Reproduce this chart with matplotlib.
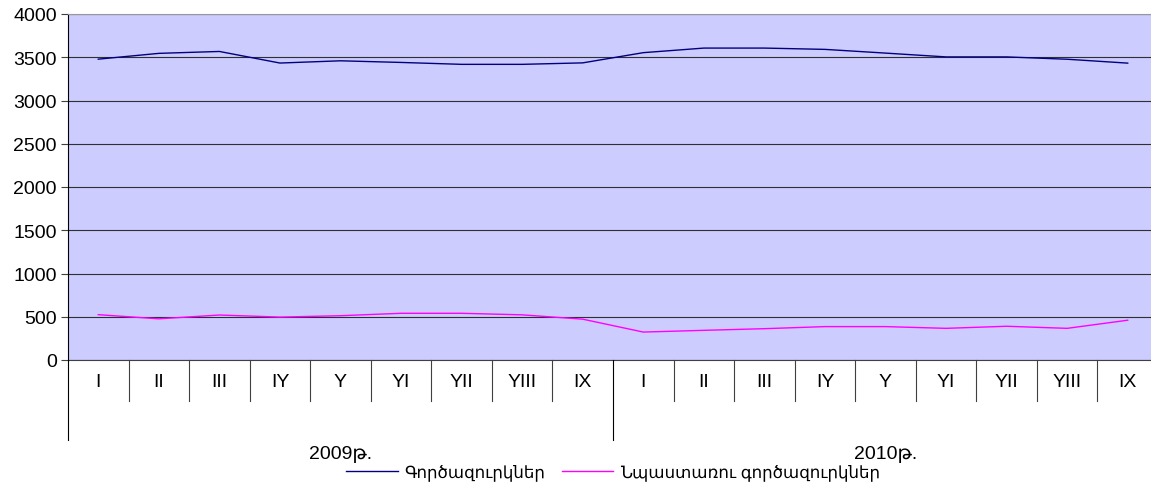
import matplotlib
matplotlib.use('Agg')
import matplotlib.pyplot as plt
import matplotlib.transforms as mtransforms
from matplotlib.lines import Line2D

plt.rcParams['font.family'] = ['Liberation Sans', 'DejaVu Sans']

months = ['I', 'II', 'III', 'IY', 'Y', 'YI', 'YII', 'YIII', 'IX']
years = ['2009թ.', '2010թ.']
unemployed = [3478, 3545, 3567, 3433, 3459, 3440, 3418, 3418, 3435,
              3553, 3606, 3606, 3591, 3548, 3504, 3504, 3477, 3432]
benefit = [524, 476, 520, 496, 512, 540, 540, 522, 472,
           323, 343, 362, 386, 386, 366, 390, 366, 460]
labels = ['Գործազուրկներ', 'Նպաստառու գործազուրկներ']

W, H = 1151, 489
fig = plt.figure(figsize=(W / 100, H / 100), dpi=100)
ax = fig.add_axes([68 / W, (H - 361) / H, (1158 - 68) / W, 346 / H])
ax.set_facecolor('#CCCCFF')

x = list(range(len(unemployed)))
ax.plot(x, unemployed, color='#000080', lw=1.0)
ax.plot(x, benefit, color='#FF00FF', lw=1.0)

ax.set_xlim(-0.5, len(x) - 0.5)
ax.set_ylim(0, 4000)
ax.set_yticks(range(0, 4001, 500))
ax.yaxis.grid(True, color='#303030', lw=0.8)
ax.set_axisbelow(True)
ax.tick_params(axis='y', labelsize=14, length=5, width=0.8, color='#404040', pad=3)

for s in ['right', 'bottom']:
    ax.spines[s].set_visible(False)
ax.spines['top'].set_color('#999999')
ax.spines['left'].set_color('black')
ax.spines['left'].set_linewidth(0.8)

# two-level category axis
ax.set_xticks([])
trans = mtransforms.blended_transform_factory(ax.transData, ax.transAxes)
tick_h = 41 / 346
year_h = 80 / 346
ax.plot([-0.5, len(x) - 0.5], [0, 0], transform=trans, color='#404040', lw=0.8, clip_on=False)
for i in range(len(x)):
    ax.text(i, -22 / 346, months[i % 9], transform=trans, ha='center', va='center', fontsize=14)
    if (i + 1) % 9 != 0:
        ax.plot([i + 0.5, i + 0.5], [0, -tick_h], transform=trans, color='#404040', lw=0.8, clip_on=False)
for k, yr in enumerate(years):
    ax.plot([k * 9 - 0.5, k * 9 - 0.5], [0, -year_h], transform=trans, color='black', lw=0.8, clip_on=False)
    ax.text(k * 9 + 4, -94 / 346, yr, transform=trans, ha='center', va='center', fontsize=14)

handles = [Line2D([], [], color='#000080', lw=1.0), Line2D([], [], color='#FF00FF', lw=1.0)]
fig.legend(handles, labels, loc='center', bbox_to_anchor=(613 / W, 16 / H), ncol=2,
           frameon=False, fontsize=12, handlelength=3.1, handletextpad=0.4, columnspacing=1.0)

plt.savefig('out.png', dpi=100)
